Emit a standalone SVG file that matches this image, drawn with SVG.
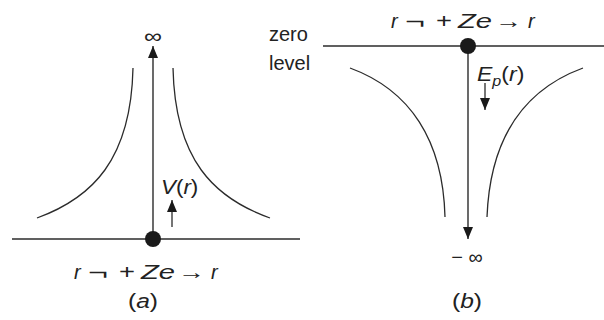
<svg xmlns="http://www.w3.org/2000/svg" width="604" height="320" viewBox="0 0 604 320">
<style>
.ln{stroke:#2b2b2b;stroke-width:1.4;fill:none}
.cv{stroke:#2b2b2b;stroke-width:1.3;fill:none}
text{font-family:"Liberation Sans",Arial,sans-serif;fill:#222;font-size:20px}
.i{font-style:italic}
</style>
<defs>
<marker id="ah" viewBox="0 0 12 10" refX="12" refY="5" markerWidth="12" markerHeight="10" markerUnits="userSpaceOnUse" orient="auto">
<path d="M0,0 L12,5 L0,10 Z" fill="#1a1a1a"/>
</marker>
</defs>
<rect width="604" height="320" fill="#fff"/>
<g id="panel-a">
<line class="ln" x1="12" y1="239" x2="300" y2="239"/>
<path class="cv" d="M133,68 C131,160 92,198 37,218"/>
<path class="cv" d="M173,68 C175,160 214,198 270,218"/>
<g id="connectors-a">
<path d="M153,239 L153,46" stroke="#2b2b2b" stroke-width="1.4" fill="none" marker-end="url(#ah)"/>
<path d="M172,227 L172,200" stroke="#2b2b2b" stroke-width="1.3" fill="none" marker-end="url(#ah)"/>
</g>
<circle cx="153" cy="239" r="8" fill="#1a1a1a"/>
<text x="153" y="43" text-anchor="middle" font-size="20" textLength="18" lengthAdjust="spacingAndGlyphs">∞</text>
<text transform="translate(161,194) scale(1.12,1)" x="0" y="0" font-size="21" class="i">V<tspan font-style="normal">(</tspan>r<tspan font-style="normal">)</tspan></text>
<g id="eq-a" font-size="21">
<text x="74" y="279" class="i">r</text>
<text x="88" y="279" textLength="20" lengthAdjust="spacingAndGlyphs">¬</text>
<text x="119" y="279" textLength="16" lengthAdjust="spacingAndGlyphs">+</text>
<text x="141" y="279" class="i" textLength="34" lengthAdjust="spacingAndGlyphs">Ze</text>
<text x="178" y="279" textLength="27" lengthAdjust="spacingAndGlyphs">→</text>
<text x="211" y="279" class="i">r</text>
</g>
<text x="128" y="308" font-size="22" textLength="30" lengthAdjust="spacingAndGlyphs">(<tspan class="i">a</tspan>)</text>
</g>
<g id="panel-b">
<line class="ln" x1="323" y1="46" x2="604" y2="46"/>
<path class="cv" d="M350,68 C410,90 443,140 445,217"/>
<path class="cv" d="M583,68 C523,90 490,140 487,217"/>
<g id="connectors-b">
<path d="M468,46 L468,239" stroke="#2b2b2b" stroke-width="1.4" fill="none" marker-end="url(#ah)"/>
<path d="M485,83 L485,110" stroke="#2b2b2b" stroke-width="1.3" fill="none" marker-end="url(#ah)"/>
</g>
<circle cx="468" cy="46" r="8" fill="#1a1a1a"/>
<text x="269" y="41" font-size="23">zero</text>
<text x="269" y="70" font-size="23">level</text>
<g id="eq-b" font-size="21">
<text x="391" y="28" class="i">r</text>
<text x="405" y="28" textLength="20" lengthAdjust="spacingAndGlyphs">¬</text>
<text x="436" y="28" textLength="16" lengthAdjust="spacingAndGlyphs">+</text>
<text x="458" y="28" class="i" textLength="34" lengthAdjust="spacingAndGlyphs">Ze</text>
<text x="495" y="28" textLength="27" lengthAdjust="spacingAndGlyphs">→</text>
<text x="528" y="28" class="i">r</text>
</g>
<text transform="translate(477,81) scale(1.15,1)" font-size="21"><tspan class="i">E</tspan><tspan class="i" font-size="14" dy="5">p</tspan><tspan dy="-5">(</tspan><tspan class="i">r</tspan>)</text>
<text x="467" y="264" text-anchor="middle" font-size="20">− ∞</text>
<text x="452" y="308" font-size="22" textLength="30" lengthAdjust="spacingAndGlyphs">(<tspan class="i">b</tspan>)</text>
</g>
</svg>
